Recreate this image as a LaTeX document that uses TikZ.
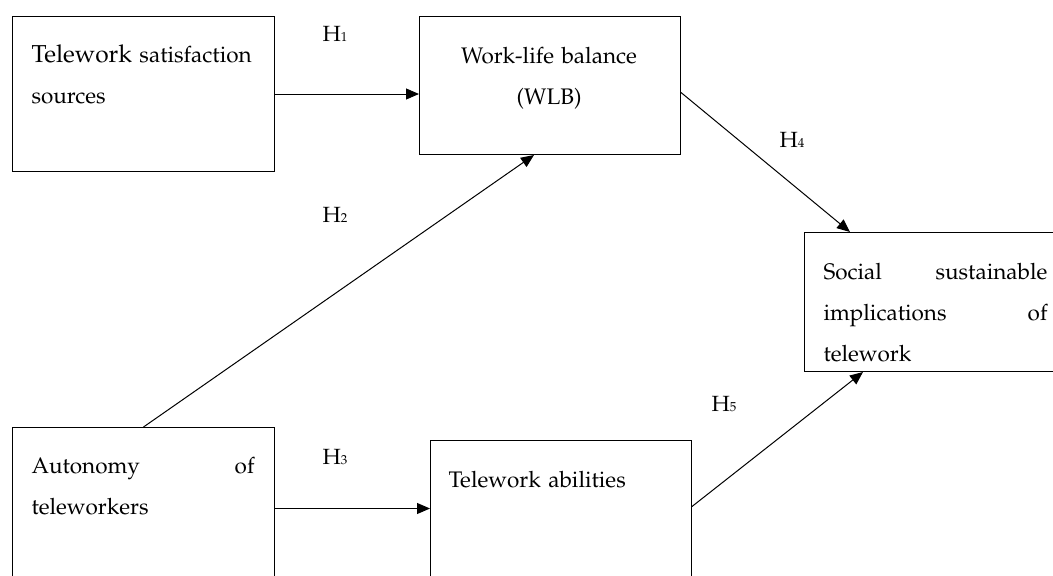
\documentclass[tikz,border=0pt]{standalone}
\usepackage[T1]{fontenc}
\usepackage{mathpazo}
\usetikzlibrary{arrows.meta,positioning}

\newcommand{\hyplabel}[1]{H{\fontsize{13}{13}\selectfont #1}}

\begin{document}
\begin{tikzpicture}[x=1pt, y=-1pt, >={Triangle[length=13pt,width=11pt]}, line width=1pt,
    box/.style={draw, rectangle, inner sep=0pt, anchor=north west},
    txt/.style={anchor=base west, inner sep=0pt, text width=#1, align=left,
                font=\fontsize{22.5}{41}\selectfont},
    hyp/.style={font=\fontsize{22}{24}\selectfont}]

  \useasboundingbox (0,0) rectangle (1053,576);
  \clip (0,0) rectangle (1053,576);

  % boxes
  \node[box, minimum width=262pt, minimum height=155pt] (sat) at (12,16) {};
  \node[box, minimum width=261pt, minimum height=138pt] (wlb) at (419,16) {};
  \node[box, minimum width=258pt, minimum height=139pt] (ssi) at (804,232) {};
  \node[box, minimum width=262pt, minimum height=162pt] (aut) at (12,427) {};
  \node[box, minimum width=261pt, minimum height=170pt] (abi) at (430,440) {};

  % box texts
  \node[txt=236pt] (satTxt) at (31,62) {{\fontsize{24.5}{41}\selectfont Telework} satisfaction\\sources};
  \node[txt=240pt, align=center, anchor=base] (wlbTxt) at (549,63) {Work-life balance\\(WLB)};
  \node[txt=224pt] (ssiTxt) at (823,279) {Social \hfill sustainable\\implications \hfill of\\telework};
  \node[txt=223pt] (autTxt) at (31,473) {Autonomy \hfill of\\teleworkers};
  \node[txt=230pt] (abiTxt) at (448,487) {Telework abilities};

  % hypotheses
  \node[hyp] (h1) at (335,34) {\hyplabel{1}};
  \node[hyp] (h2) at (335,215) {\hyplabel{2}};
  \node[hyp] (h3) at (335,457) {\hyplabel{3}};
  \node[hyp] (h4) at (792,140) {\hyplabel{4}};
  \node[hyp] (h5) at (724,404) {\hyplabel{5}};

  \draw[->] (sat.east) -- (wlb.west |- sat.east);
  \draw[->] ([yshift=-7pt]wlb.east) -- ([xshift=46pt]ssi.north west);
  \draw[->] (aut.north) -- ([xshift=-16pt]wlb.south);
  \draw[->] (aut.east) -- (abi.west |- aut.east);
  \draw[->] ([yshift=19pt]abi.east) -- ([xshift=59pt]ssi.south west);
\end{tikzpicture}
\end{document}
